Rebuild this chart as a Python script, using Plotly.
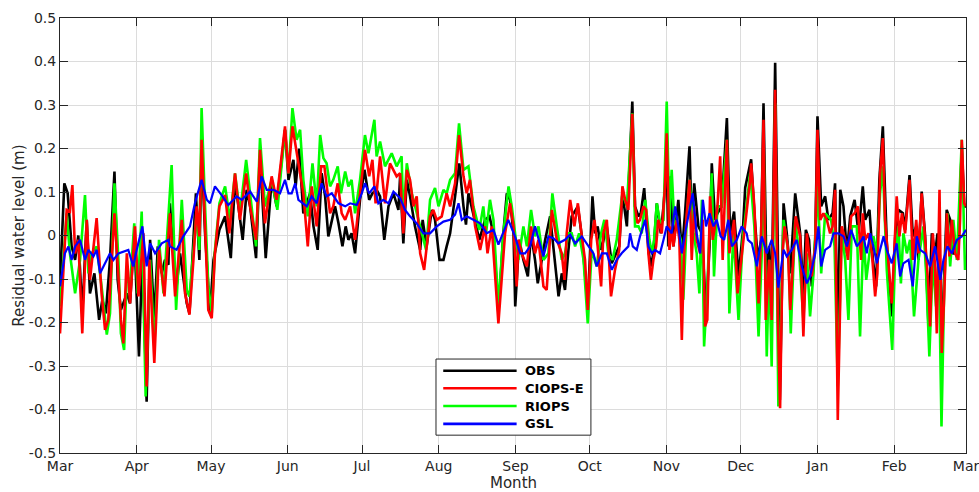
import pandas as pd
import plotly.graph_objects as go

# Residual water level time series, one year starting 1 March.
# Days are counted from the start date; values are in metres.
START = pd.Timestamp("2019-03-01")

obs_days = [0.0, 1.75, 3.1, 4.7, 6.1, 7.4, 9.0, 10.8, 12.1, 13.9, 15.8, 17.1, 18.5, 20.2, 22.0, 23.3, 24.6, 27.0, 28.3, 30.0,
            31.9, 33.3, 35.0, 36.4, 38.1, 39.5, 41.1, 42.4, 43.8, 44.4, 45.8, 47.1, 48.5, 51.2, 52.3, 54.9, 56.3, 57.2, 58.6, 60.6,
            62.0, 64.4, 66.7, 69.0, 70.7, 73.8, 75.4, 76.8, 79.2, 80.8, 83.1, 85.5, 87.5, 90.9, 92.3, 94.3, 95.2, 96.6, 98.3, 101.0,
            102.4, 104.1, 105.7, 107.1, 108.4, 109.8, 111.1, 112.5, 114.1, 115.4, 116.5, 117.8, 119.2, 121.2, 123.0, 124.9, 126.2, 127.9, 129.3, 131.0,
            132.7, 134.7, 136.7, 137.4, 138.7, 140.1, 141.4, 143.4, 145.5, 146.5, 148.1, 150.2, 151.5, 153.3, 154.9, 156.2, 157.6, 159.6, 161.3, 163.0,
            164.0, 165.0, 167.0, 169.4, 171.7, 173.5, 175.1, 177.1, 179.1, 180.5, 181.8, 183.2, 183.9, 185.5, 187.2, 189.0, 190.3, 191.9, 193.0, 194.6,
            196.0, 198.0, 199.7, 201.4, 202.7, 204.0, 205.4, 206.7, 209.2, 210.8, 213.2, 215.1, 216.2, 217.2, 218.6, 220.9, 222.9, 225.9, 227.2, 229.0,
            231.2, 232.3, 233.7, 234.6, 236.0, 237.7, 238.7, 239.7, 241.1, 242.7, 243.8, 245.1, 245.8, 246.7, 247.8, 249.8, 251.2, 252.5, 254.3, 255.2,
            256.2, 257.9, 259.3, 261.0, 262.4, 263.3, 264.6, 265.6, 267.3, 269.4, 270.7, 272.3, 274.1, 275.8, 276.8, 279.2, 280.5, 281.9, 283.2, 284.2,
            285.5, 286.5, 287.5, 288.9, 290.0, 290.8, 292.3, 293.6, 295.0, 297.0, 299.0, 300.3, 301.3, 302.6, 303.7, 305.1, 306.0, 307.5, 309.1, 310.4,
            312.1, 313.1, 314.2, 315.2, 316.5, 317.9, 319.2, 321.0, 322.6, 324.3, 325.3, 327.0, 328.4, 329.7, 331.0, 332.4, 334.0, 336.0, 337.4, 338.7,
            340.5, 341.4, 343.2, 344.5, 345.9, 346.8, 348.1, 349.5, 350.8, 352.2, 353.5, 354.5, 356.2, 358.2, 359.6, 360.9, 362.9, 364.3, 365.3, 366.0]
obs_vals = [-0.11, 0.12, 0.097, -0.025, -0.056, 0.0, -0.18, 0.036, -0.133, -0.087, -0.194, -0.148, -0.179, -0.056, 0.147, -0.102, -0.171, -0.133, -0.156, 0.005,
            -0.278, -0.041, -0.382, -0.01, -0.194, -0.025, -0.087, -0.056, -0.067, 0.074, -0.041, -0.117, -0.041, -0.156, -0.179, 0.097, -0.056, 0.197, 0.005, -0.179,
            -0.056, 0.013, 0.044, -0.052, 0.128, -0.01, 0.105, 0.067, -0.052, 0.182, -0.052, 0.128, 0.067, 0.243, 0.128, 0.174, 0.113, 0.2, 0.051, 0.097,
            0.021, -0.033, 0.143, 0.09, -0.002, 0.036, 0.067, 0.028, -0.025, 0.021, -0.01, 0.005, -0.041, 0.082, 0.151, 0.082, 0.097, 0.105, 0.09, -0.01,
            0.067, 0.097, 0.059, 0.136, -0.018, 0.128, 0.09, 0.021, -0.033, 0.036, -0.025, 0.059, 0.036, -0.056, -0.056, -0.025, 0.005, 0.09, 0.166, 0.067,
            0.025, 0.097, 0.051, -0.01, 0.036, 0.044, 0.005, -0.179, 0.005, 0.097, 0.082, 0.005, -0.163, -0.01, -0.056, -0.094, 0.005, -0.056, -0.11, -0.056,
            -0.01, 0.044, -0.056, -0.14, -0.087, -0.125, -0.033, 0.044, 0.067, -0.002, -0.163, 0.09, 0.005, 0.021, -0.033, 0.021, -0.064, -0.025, 0.097, 0.021,
            0.308, 0.067, 0.044, 0.051, 0.109, -0.033, -0.071, -0.041, 0.074, 0.005, 0.067, 0.166, -0.025, 0.136, -0.025, 0.082, -0.041, 0.051, 0.205, 0.021,
            0.12, 0.021, 0.005, -0.179, -0.025, 0.166, 0.036, 0.051, 0.067, 0.27, 0.005, 0.055, -0.094, 0.005, 0.11, 0.175, 0.051, -0.056, -0.01, 0.304,
            -0.117, -0.025, -0.148, 0.397, -0.041, -0.378, 0.074, 0.005, -0.087, 0.097, 0.005, -0.14, 0.013, -0.01, -0.117, -0.01, 0.274, 0.067, 0.09, 0.036,
            0.051, 0.12, -0.27, 0.105, 0.067, -0.041, 0.044, 0.082, 0.005, 0.113, 0.036, 0.059, -0.056, -0.117, 0.128, 0.251, -0.018, -0.186, -0.002, 0.059,
            0.051, 0.013, 0.139, -0.002, 0.021, -0.056, 0.101, -0.002, -0.202, 0.005, -0.041, 0.005, -0.24, 0.059, 0.036, -0.041, -0.041, 0.205, 0.067, 0.067]

ciops_days = [0.0, 2.7, 4.0, 5.0, 6.1, 7.4, 9.0, 10.8, 12.1, 14.8, 16.8, 18.2, 19.5, 22.0, 23.6, 24.6, 25.6, 27.0, 28.3, 30.3,
              31.7, 33.7, 35.0, 36.1, 38.1, 40.0, 42.2, 44.4, 46.5, 49.2, 50.5, 52.3, 53.9, 55.2, 56.3, 57.2, 58.6, 59.9, 61.3, 62.6,
              64.4, 66.7, 68.4, 70.7, 72.7, 75.2, 76.8, 79.2, 80.8, 82.8, 85.5, 87.5, 90.9, 92.3, 93.9, 96.3, 98.3, 100.1, 101.7, 103.7,
              105.5, 106.8, 109.1, 110.4, 112.2, 113.8, 115.2, 117.2, 119.2, 121.2, 123.2, 124.9, 126.2, 127.5, 129.3, 131.3, 133.3, 136.0, 137.4, 138.7,
              140.1, 141.4, 142.8, 144.1, 145.5, 147.1, 148.1, 149.5, 150.8, 152.2, 154.2, 156.2, 157.6, 159.6, 161.2, 163.0, 164.3, 165.6, 167.7, 169.7,
              171.7, 172.7, 174.4, 177.1, 179.8, 181.8, 183.2, 184.5, 185.2, 186.5, 188.6, 190.3, 191.9, 193.3, 195.3, 196.6, 198.7, 200.7, 202.7, 203.8,
              204.7, 206.1, 207.8, 209.2, 210.8, 212.1, 213.2, 214.6, 215.9, 217.2, 218.6, 219.5, 220.9, 222.6, 224.2, 225.9, 227.2, 228.3, 229.6, 231.2,
              232.3, 233.3, 234.3, 235.7, 236.8, 237.7, 238.7, 239.7, 240.8, 241.7, 243.1, 244.4, 245.1, 246.2, 247.1, 247.8, 249.2, 250.2, 251.2, 252.1,
              253.2, 254.3, 255.2, 256.2, 257.2, 258.6, 259.7, 260.6, 261.5, 262.6, 263.7, 264.6, 265.6, 266.7, 267.7, 269.4, 270.4, 272.3, 273.7, 275.0,
              276.8, 278.8, 279.2, 280.5, 282.2, 283.2, 284.2, 285.1, 286.5, 287.5, 288.9, 290.0, 290.9, 291.9, 292.7, 294.0, 295.0, 296.3, 297.2, 299.0,
              300.3, 301.7, 302.6, 303.7, 305.1, 306.0, 307.1, 308.4, 309.8, 311.1, 312.1, 313.1, 314.2, 315.8, 317.2, 318.3, 319.6, 321.0, 322.3, 323.6,
              324.3, 325.3, 326.6, 328.0, 329.3, 330.2, 331.3, 332.4, 333.3, 334.7, 336.0, 337.0, 338.0, 339.1, 340.1, 341.4, 343.2, 344.5, 345.9, 346.8,
              348.1, 349.5, 350.8, 351.5, 352.6, 353.5, 354.2, 355.3, 356.2, 357.2, 358.3, 359.3, 360.3, 361.6, 362.9, 363.6, 364.3, 365.3, 366.0]
ciops_vals = [-0.225, 0.059, 0.055, 0.116, -0.041, -0.01, -0.225, 0.036, -0.102, 0.04, -0.133, -0.217, -0.194, 0.051, -0.094, -0.194, -0.248, -0.041, -0.156, 0.021,
              -0.14, 0.005, -0.347, -0.056, -0.293, -0.033, -0.14, 0.051, -0.14, 0.036, -0.133, -0.182, -0.056, 0.067, -0.002, 0.22, 0.021, -0.171, -0.19, -0.041,
              0.067, 0.093, 0.005, 0.143, 0.036, 0.143, 0.067, -0.01, 0.197, 0.028, 0.136, 0.082, 0.251, 0.143, 0.251, 0.166, 0.097, -0.025, 0.113, 0.021,
              0.159, 0.159, 0.051, 0.067, 0.12, 0.051, 0.036, 0.067, -0.01, 0.097, 0.197, 0.136, 0.174, 0.074, 0.182, 0.074, 0.166, 0.136, 0.143, 0.005,
              0.151, 0.128, 0.067, 0.09, -0.041, -0.079, -0.025, 0.044, 0.059, 0.036, 0.044, 0.097, 0.067, 0.12, 0.231, 0.136, 0.097, 0.128, 0.021, -0.033,
              0.021, -0.041, 0.021, -0.202, 0.005, 0.074, 0.021, -0.117, -0.01, -0.041, -0.071, 0.021, -0.041, -0.01, -0.117, -0.125, 0.059, -0.01, -0.041, -0.102,
              0.005, 0.082, 0.021, 0.074, -0.002, -0.056, -0.171, -0.01, 0.036, -0.025, -0.117, 0.005, 0.036, -0.14, -0.079, -0.033, 0.113, 0.082, 0.059, 0.28,
              0.067, 0.028, 0.036, 0.067, 0.059, -0.041, -0.102, -0.056, -0.025, 0.036, 0.005, 0.113, 0.235, -0.033, 0.021, -0.025, 0.036, -0.01, -0.24, -0.041,
              0.051, 0.128, -0.056, 0.067, -0.01, -0.041, 0.036, -0.209, -0.194, 0.09, -0.01, 0.021, 0.067, 0.182, -0.056, 0.22, -0.041, 0.036, -0.133, -0.064,
              0.021, 0.128, 0.166, 0.067, -0.156, -0.002, 0.266, -0.194, -0.056, -0.194, 0.335, -0.194, -0.397, -0.041, 0.021, -0.025, -0.171, -0.056, 0.044, -0.002,
              -0.232, 0.005, -0.041, -0.094, -0.025, 0.243, 0.036, 0.051, 0.036, 0.005, 0.021, 0.105, -0.424, 0.021, -0.01, -0.056, 0.044, 0.051, 0.067, -0.056,
              0.051, -0.01, 0.005, -0.041, -0.14, -0.087, 0.143, 0.224, 0.036, -0.056, -0.156, -0.041, 0.09, -0.002, 0.051, 0.005, 0.128, -0.056, 0.036, -0.041,
              0.097, -0.01, -0.117, -0.209, 0.005, -0.071, -0.225, 0.105, -0.27, -0.14, 0.051, -0.048, 0.036, -0.041, -0.056, 0.036, 0.22, 0.074, 0.067]

riops_days = [0.0, 2.7, 4.0, 6.1, 8.1, 10.1, 11.5, 12.8, 14.8, 16.8, 18.9, 20.2, 22.0, 23.6, 24.6, 25.9, 27.0, 28.3, 30.0, 31.4,
              33.0, 34.6, 36.4, 38.1, 40.0, 41.8, 45.1, 46.9, 49.2, 51.2, 52.3, 55.2, 56.3, 57.2, 58.6, 59.9, 61.3, 62.6, 64.4, 66.7,
              68.7, 70.7, 72.7, 75.2, 76.8, 79.2, 80.8, 82.8, 85.5, 87.8, 90.9, 92.3, 93.9, 95.6, 97.0, 98.3, 100.1, 102.0, 103.7, 105.1,
              106.4, 107.7, 109.1, 110.4, 112.2, 113.5, 115.2, 116.5, 117.8, 119.2, 121.2, 123.2, 124.6, 127.0, 127.9, 129.3, 131.3, 134.0, 136.0, 138.0,
              138.7, 140.1, 142.1, 144.1, 146.1, 147.9, 149.5, 151.5, 152.9, 154.9, 156.2, 157.6, 159.6, 161.2, 163.0, 165.0, 167.0, 169.4, 171.0, 172.1,
              173.7, 175.1, 177.1, 179.1, 181.2, 182.5, 184.5, 185.2, 187.2, 188.6, 190.3, 191.9, 193.3, 195.3, 197.3, 198.9, 200.7, 202.7, 204.0, 205.4,
              206.7, 208.1, 209.7, 211.5, 213.2, 214.8, 216.8, 218.6, 219.9, 221.5, 223.2, 224.9, 227.2, 229.0, 231.2, 232.3, 233.7, 235.0, 236.4, 238.1,
              239.1, 240.0, 241.1, 242.4, 243.8, 245.1, 246.2, 247.1, 248.1, 249.2, 250.8, 251.8, 253.2, 254.3, 255.9, 257.2, 258.3, 259.3, 260.2, 261.5,
              263.3, 264.2, 265.6, 267.3, 269.4, 270.4, 272.1, 274.1, 275.8, 277.4, 278.8, 280.5, 282.2, 283.5, 284.2, 285.5, 286.5, 287.5, 288.9, 290.2,
              292.3, 294.3, 295.2, 297.0, 298.6, 300.3, 301.7, 303.0, 304.4, 306.0, 307.5, 309.1, 311.5, 312.9, 314.2, 315.8, 317.2, 318.5, 319.9, 321.9,
              323.2, 324.6, 325.7, 327.0, 328.6, 330.0, 331.3, 332.4, 334.0, 336.2, 337.4, 338.7, 339.7, 340.7, 342.1, 343.4, 345.0, 346.8, 348.8, 349.9,
              351.2, 352.6, 353.9, 355.0, 356.1, 357.2, 358.5, 359.6, 360.9, 362.3, 364.3, 365.6, 366.0]
riops_vals = [-0.163, 0.051, -0.041, -0.133, -0.056, 0.093, -0.087, -0.041, -0.025, -0.117, -0.228, -0.179, 0.12, -0.056, -0.225, -0.263, -0.087, -0.117, 0.028, -0.133,
              0.055, -0.37, -0.056, -0.255, -0.01, -0.133, 0.162, -0.171, 0.082, -0.125, -0.14, 0.051, -0.033, 0.293, 0.067, -0.117, -0.179, -0.033, 0.074, 0.113,
              0.036, 0.143, 0.051, 0.174, 0.097, -0.025, 0.224, 0.067, 0.128, 0.059, 0.243, 0.143, 0.293, 0.22, 0.243, 0.128, 0.044, 0.166, 0.067, 0.231,
              0.178, 0.166, 0.113, 0.128, 0.159, 0.097, 0.147, 0.113, 0.128, 0.051, 0.128, 0.231, 0.189, 0.266, 0.182, 0.216, 0.159, 0.189, 0.159, 0.182,
              0.036, 0.166, 0.097, 0.051, 0.005, -0.033, 0.082, 0.109, 0.067, 0.105, 0.097, 0.128, 0.143, 0.258, 0.151, 0.159, 0.067, 0.013, 0.067, 0.005,
              0.082, 0.036, -0.163, 0.005, 0.113, 0.067, -0.025, -0.056, 0.021, -0.025, 0.059, -0.002, 0.021, -0.056, -0.041, 0.097, 0.021, -0.056, -0.041, 0.005,
              0.005, -0.025, 0.005, -0.056, -0.202, -0.033, -0.071, 0.005, 0.036, -0.041, -0.056, -0.01, 0.097, 0.067, 0.281, 0.021, 0.021, 0.005, 0.082, -0.01,
              -0.041, -0.01, 0.074, 0.028, 0.036, 0.308, 0.036, 0.151, 0.036, 0.021, -0.01, -0.148, 0.036, 0.128, 0.005, -0.041, -0.133, 0.082, -0.255, -0.117,
              0.143, -0.094, 0.067, 0.067, 0.22, -0.179, 0.005, -0.194, -0.01, 0.067, 0.143, 0.021, -0.232, -0.041, 0.228, -0.278, -0.056, -0.301, 0.304, -0.393,
              0.036, -0.041, -0.225, 0.036, -0.041, -0.194, -0.041, -0.186, -0.087, 0.113, -0.087, 0.051, 0.036, -0.025, -0.347, 0.005, -0.056, -0.194, 0.021, 0.021,
              -0.232, 0.005, -0.102, -0.041, -0.002, -0.041, 0.097, 0.159, -0.079, -0.263, -0.041, 0.021, -0.11, 0.005, -0.041, -0.01, -0.186, -0.056, 0.021, -0.087,
              -0.278, -0.056, -0.163, -0.041, -0.439, -0.117, 0.051, -0.071, 0.036, -0.056, 0.22, -0.079, -0.056]

gsl_days = [0.0, 2.0, 3.4, 4.7, 6.1, 8.1, 10.1, 11.5, 13.5, 14.8, 16.2, 18.2, 20.2, 21.6, 23.6, 27.6, 29.6, 31.0, 33.3, 35.0,
            36.4, 38.4, 41.1, 43.8, 44.4, 47.1, 49.8, 52.5, 54.5, 57.2, 59.3, 60.6, 62.6, 65.3, 68.0, 71.4, 73.4, 76.8, 79.5, 81.5,
            83.5, 86.2, 88.9, 90.9, 92.3, 93.6, 95.0, 96.3, 98.3, 99.7, 101.7, 103.7, 105.7, 107.7, 109.8, 112.5, 115.2, 117.2, 119.9, 121.9,
            123.2, 124.9, 127.0, 128.6, 130.6, 132.7, 134.7, 137.4, 139.4, 141.4, 144.1, 146.8, 149.5, 152.2, 154.9, 157.6, 159.6, 161.0, 162.3, 164.3,
            167.0, 169.7, 172.4, 175.1, 177.1, 178.5, 181.1, 183.8, 185.9, 187.9, 189.9, 191.9, 193.3, 195.3, 197.3, 199.3, 201.3, 204.0, 206.1, 208.1,
            210.8, 213.5, 215.5, 216.8, 218.9, 220.9, 222.9, 224.9, 226.9, 229.6, 230.3, 231.4, 233.0, 234.3, 236.4, 237.7, 239.1, 240.4, 242.4, 243.8,
            245.1, 247.1, 248.5, 249.8, 251.2, 252.5, 254.5, 255.6, 257.2, 258.6, 259.7, 261.0, 262.4, 264.0, 265.3, 266.9, 268.3, 270.0, 271.4, 273.4,
            275.4, 277.4, 277.9, 279.5, 281.5, 283.5, 285.5, 287.5, 288.9, 290.2, 292.3, 293.6, 295.6, 297.6, 299.7, 301.7, 303.0, 305.1, 306.4, 307.5,
            309.1, 311.1, 312.5, 314.5, 316.5, 317.9, 319.6, 321.9, 323.9, 324.6, 325.9, 327.3, 328.6, 330.0, 331.3, 332.7, 334.0, 336.0, 338.0, 339.4,
            340.7, 342.8, 344.5, 346.1, 347.5, 349.5, 351.5, 353.5, 355.6, 356.9, 358.5, 360.3, 362.3, 364.3, 366.0]
gsl_vals = [-0.117, -0.041, -0.025, -0.056, -0.025, -0.01, -0.056, -0.033, -0.048, -0.033, -0.087, -0.064, -0.041, -0.056, -0.041, -0.033, -0.071, -0.033, 0.021, -0.071,
            -0.018, -0.041, -0.018, -0.01, -0.025, -0.033, -0.002, 0.021, 0.074, 0.128, 0.082, 0.074, 0.113, 0.093, 0.07, 0.09, 0.082, 0.101, 0.078, 0.136,
            0.105, 0.105, 0.097, 0.128, 0.097, 0.097, 0.12, 0.082, 0.074, 0.067, 0.09, 0.074, 0.12, 0.09, 0.097, 0.074, 0.067, 0.074, 0.07, 0.097,
            0.12, 0.097, 0.113, 0.074, 0.082, 0.074, 0.101, 0.086, 0.059, 0.044, 0.028, 0.005, 0.005, 0.021, 0.032, 0.036, 0.048, 0.074, 0.036, 0.044,
            0.036, 0.028, 0.005, 0.013, -0.021, -0.002, 0.036, -0.002, -0.041, -0.041, -0.025, 0.021, -0.01, -0.048, -0.002, -0.006, -0.018, -0.01, 0.002, -0.018,
            -0.002, -0.025, -0.041, -0.071, -0.041, -0.041, -0.079, -0.056, -0.041, -0.025, 0.005, -0.025, -0.033, -0.002, 0.036, -0.025, -0.041, -0.033, -0.041, -0.01,
            0.021, 0.005, 0.067, 0.021, -0.041, 0.005, 0.067, 0.097, 0.005, -0.041, 0.082, 0.021, 0.051, 0.021, 0.036, -0.002, -0.01, 0.036, -0.025, -0.01,
            0.021, 0.005, -0.01, -0.018, -0.071, -0.002, -0.041, -0.01, -0.041, -0.12, -0.033, -0.048, -0.033, -0.01, -0.071, -0.11, -0.094, -0.041, 0.021, -0.071,
            -0.033, -0.025, 0.005, 0.005, -0.002, -0.025, 0.013, -0.025, -0.01, -0.002, -0.041, 0.005, -0.025, -0.064, -0.033, -0.002, -0.033, -0.064, -0.018, -0.094,
            -0.064, -0.056, -0.117, -0.002, -0.033, -0.041, -0.071, -0.025, -0.102, -0.056, -0.025, -0.041, -0.01, -0.002, 0.013]

month_labels = ["Mar", "Apr", "May", "Jun", "Jul", "Aug", "Sep", "Oct", "Nov", "Dec", "Jan", "Feb", "Mar"]
y_ticks = [0.5, 0.4, 0.3, 0.2, 0.1, 0.0, -0.1, -0.2, -0.3, -0.4, -0.5]
y_tick_labels = ["0.5", "0.4", "0.3", "0.2", "0.1", "0", "-0.1", "-0.2", "-0.3", "-0.4", "-0.5"]

series = [
    ("OBS", obs_days, obs_vals, "#000000", 2.6),
    ("RIOPS", riops_days, riops_vals, "#00ff00", 2.6),
    ("CIOPS-E", ciops_days, ciops_vals, "#ff0000", 2.6),
    ("GSL", gsl_days, gsl_vals, "#0000ff", 2.2),
]
legend_order = [("OBS", "#000000"), ("CIOPS-E", "#ff0000"), ("RIOPS", "#00ff00"), ("GSL", "#0000ff")]


def to_dates(days):
    return START + pd.to_timedelta(days, unit="D")


fig = go.Figure()
for name, days, vals, color, width in series:
    fig.add_trace(go.Scatter(
        x=to_dates(days), y=vals, mode="lines", name=name,
        line=dict(color=color, width=width), showlegend=False,
    ))

month_ticks = [START + pd.DateOffset(months=i) for i in range(13)]
axis_color = "#262626"
grid_color = "#dcdcdc"
font_family = "DejaVu Sans, Verdana, sans-serif"

fig.update_xaxes(
    range=[month_ticks[0], month_ticks[-1]],
    tickvals=month_ticks, ticktext=month_labels,
    ticklabeloverflow="allow", automargin=False,
    showgrid=True, gridcolor=grid_color, gridwidth=1,
    showline=True, linecolor=axis_color, linewidth=1, mirror="allticks",
    ticks="inside", ticklen=8, tickcolor=axis_color, tickwidth=1,
    tickfont=dict(family=font_family, size=14, color=axis_color),
    zeroline=False,
)
fig.update_yaxes(
    range=[-0.5, 0.5], tickvals=y_ticks, ticktext=y_tick_labels,
    automargin=False,
    showgrid=True, gridcolor=grid_color, gridwidth=1,
    showline=True, linecolor=axis_color, linewidth=1, mirror="allticks",
    ticks="inside", ticklen=8, tickcolor=axis_color, tickwidth=1,
    tickfont=dict(family=font_family, size=14, color=axis_color),
    zeroline=False,
)

# Hand-built legend box so the line samples can be long, as in the MATLAB style
lx0, lx1, ly0, ly1 = 0.415, 0.586, 0.041, 0.216
row_y = [0.189, 0.149, 0.108, 0.067]
shapes = [dict(type="rect", xref="paper", yref="paper", x0=lx0, x1=lx1, y0=ly0, y1=ly1,
               line=dict(color=axis_color, width=1), fillcolor="white", layer="above")]
annotations = []
for (label, color), yy in zip(legend_order, row_y):
    shapes.append(dict(type="line", xref="paper", yref="paper", x0=0.423, x1=0.504, y0=yy, y1=yy,
                       line=dict(color=color, width=2.6), layer="above"))
    annotations.append(dict(xref="paper", yref="paper", x=0.511, y=yy, xanchor="left", yanchor="middle",
                            text=f"<b>{label}</b>", showarrow=False,
                            font=dict(family=font_family, size=13, color="#000000")))

annotations.append(dict(xref="paper", yref="paper", x=0.5, y=-0.068, xanchor="center", yanchor="middle",
                        text="Month", showarrow=False,
                        font=dict(family=font_family, size=15, color=axis_color)))
annotations.append(dict(xref="paper", yref="paper", x=-0.046, y=0.5, xanchor="center", yanchor="middle",
                        text="Residual water level (m)", textangle=-90, showarrow=False,
                        font=dict(family=font_family, size=15, color=axis_color)))

fig.update_layout(
    width=979, height=492,
    margin=dict(l=60, r=13, t=18, b=39, autoexpand=False),
    paper_bgcolor="white", plot_bgcolor="white",
    showlegend=False,
    shapes=shapes, annotations=annotations,
    font=dict(family=font_family),
)

fig.write_html("out.html")
